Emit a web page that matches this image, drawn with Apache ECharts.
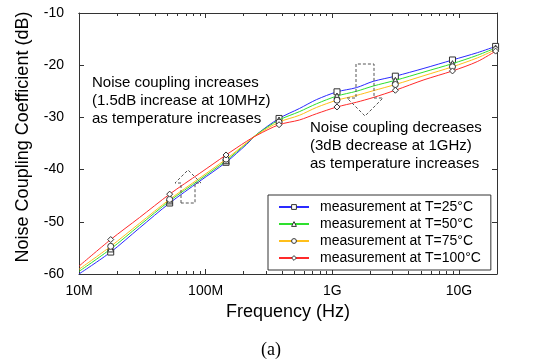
<!DOCTYPE html>
<html>
<head>
<meta charset="utf-8">
<script src="https://cdn.jsdelivr.net/npm/echarts@6/dist/echarts.min.js"></script>
<style>
html,body{margin:0;padding:0;background:#fff;}
#c{width:545px;height:363px;}
</style>
</head>
<body>
<div id="c"></div>
<script>
// ---- data (frequency in Hz, coupling in dB) ----
const freqHz = [1e7, 1.78e7, 3e7, 5.2e7, 9e7, 1.45e8, 2.1e8, 2.55e8, 3.8e8, 5.5e8, 7.5e8, 1.09e9, 1.55e9, 2.1e9, 3.15e9, 5.3e9, 8.9e9, 1.4e10, 1.95e10];
const markerHz = [1.78e7, 5.2e7, 1.45e8, 3.8e8, 1.09e9, 3.15e9, 8.9e9, 1.95e10];
const t25  = [-60.0, -55.8, -51.2, -46.4, -42.2, -38.6, -35.2, -33.2, -30.2, -28.3, -26.6, -25.1, -24.3, -23.1, -22.1, -20.6, -19.0, -17.6, -16.4];
const t50  = [-59.5, -55.2, -50.7, -46.0, -41.9, -38.3, -35.0, -33.2, -30.5, -28.9, -27.4, -25.9, -25.0, -24.0, -22.9, -21.3, -19.7, -18.1, -16.7];
const t75  = [-59.1, -54.7, -50.3, -45.7, -41.6, -38.0, -34.9, -33.3, -30.9, -29.6, -28.1, -26.7, -25.8, -24.9, -23.7, -22.0, -20.3, -18.6, -17.0];
const t100 = [-58.5, -53.4, -49.2, -44.7, -40.7, -37.2, -34.6, -33.4, -31.4, -30.5, -29.3, -28.0, -27.1, -26.2, -24.8, -22.8, -21.1, -19.3, -17.3];
const seriesNames = ['measurement at T=25°C', 'measurement at T=50°C', 'measurement at T=75°C', 'measurement at T=100°C'];
const majorTicks = [1e7, 1e8, 1e9, 1e10];
const tickLabels = ['10M', '100M', '1G', '10G'];
const yMin = -60, yMax = -10, yStep = 10;
const xMin = 1e7, xMax = 2e10;

// ---- build ----
const minorTicks = [];
for (let e = 7; e <= 10; e++) for (let m = 2; m <= 9; m++) { const v = m * Math.pow(10, e); if (v < xMax) minorTicks.push(v); }
const lg = v => Math.log10(v);
const colors = ['#2a2aff', '#2ee02e', '#ffbf1a', '#ff2a2a'];
const symbols = ['rect', 'triangle', 'circle', 'diamond'];
const FONT = 'Arial, "Liberation Sans", sans-serif';
const axisColor = '#333';

function build(vals) {
  return freqHz.map((f, i) => {
    const isMarker = markerHz.indexOf(f) >= 0;
    return isMarker ? { value: [f, vals[i]] } : { value: [f, vals[i]], symbol: 'none' };
  });
}
const allVals = [t25, t50, t75, t100];

// main data axis (log), with decade labels
const mainX = {
  type: 'log', logBase: 10, min: xMin, max: xMax, position: 'bottom',
  axisLine: { show: true, onZero: false, lineStyle: { color: axisColor, width: 1 } },
  axisTick: { show: false },
  axisLabel: {
    show: true, customValues: majorTicks, margin: 10, fontSize: 14, color: '#000', fontFamily: FONT,
    formatter: v => tickLabels[majorTicks.findIndex(t => Math.abs(t - v) / t < 1e-6)] || ''
  },
  splitLine: { show: false }
};
// tick-only axes in log10 space (same extent as main axis)
function tickAx(pos, ticks, len) {
  return {
    type: 'value', min: lg(xMin), max: lg(xMax), position: pos,
    axisLine: { show: pos === 'top', onZero: false, lineStyle: { color: axisColor, width: 1 } },
    axisTick: { show: true, inside: true, length: len, customValues: ticks.map(lg), lineStyle: { color: axisColor, width: 1 } },
    axisLabel: { show: false },
    splitLine: { show: false }
  };
}
function yAx(pos, labels) {
  return {
    type: 'value', min: yMin, max: yMax, interval: yStep, position: pos,
    axisLine: { show: true, onZero: false, lineStyle: { color: axisColor, width: 1 } },
    axisTick: { show: true, inside: true, length: 5, lineStyle: { color: axisColor, width: 1 } },
    axisLabel: labels ? { show: true, margin: 15, fontSize: 14, color: '#000', fontFamily: FONT } : { show: false },
    splitLine: { show: false }
  };
}

const chart = echarts.init(document.getElementById('c'), null, { renderer: 'canvas' });
const dash = { stroke: '#555', lineWidth: 1, lineDash: [3, 2], fill: null };
chart.setOption({
  animation: false,
  backgroundColor: '#fff',
  grid: { left: 79, right: 48, top: 13, bottom: 89, containLabel: false },
  xAxis: [mainX, tickAx('bottom', majorTicks, 5), tickAx('bottom', minorTicks, 3), tickAx('top', majorTicks, 5), tickAx('top', minorTicks, 3)],
  yAxis: [yAx('left', true), yAx('right', false)],
  legend: {
    orient: 'vertical', left: 268, top: 195,
    padding: [5, 10, 5, 10], itemWidth: 30, itemHeight: 6, itemGap: 3,
    backgroundColor: '#fff', borderColor: '#333', borderWidth: 1, borderRadius: 0,
    itemStyle: { color: '#fff', borderColor: '#333', borderWidth: 1 },
    textStyle: { fontSize: 14, color: '#000', fontFamily: FONT, padding: [0, 0, 0, 6] },
    data: seriesNames
  },
  series: allVals.map((vals, k) => ({
    name: seriesNames[k], type: 'line', xAxisIndex: 0, yAxisIndex: 0,
    data: build(vals), smooth: 0.3, showAllSymbol: true,
    symbol: symbols[k], symbolSize: 6,
    lineStyle: { color: colors[k], width: 1 },
    itemStyle: { color: '#fff', borderColor: '#333', borderWidth: 1 },
    emphasis: { disabled: true }, z: 2 + k
  })),
  graphic: [
    { type: 'text', silent: true, style: { x: 23, y: 137, text: 'Noise Coupling Coefficient (dB)', font: '18px ' + FONT, fill: '#000', align: 'center', verticalAlign: 'middle' }, rotation: Math.PI / 2, originX: 23, originY: 137 },
    { type: 'text', silent: true, style: { x: 288, y: 312, text: 'Frequency (Hz)', font: '18px ' + FONT, fill: '#000', align: 'center', verticalAlign: 'middle' } },
    { type: 'text', silent: true, style: { x: 271, y: 350, text: '(a)', font: '18px "Liberation Serif", "Times New Roman", serif', fill: '#000', align: 'center', verticalAlign: 'middle' } },
    { type: 'text', silent: true, style: { x: 92, y: 74, text: 'Noise coupling increases\n(1.5dB increase at 10MHz)\nas temperature increases', font: '15px ' + FONT, fill: '#000', lineHeight: 18, verticalAlign: 'top' } },
    { type: 'text', silent: true, style: { x: 310, y: 119, text: 'Noise coupling decreases\n(3dB decrease at 1GHz)\nas temperature increases', font: '15px ' + FONT, fill: '#000', lineHeight: 18, verticalAlign: 'top' } },
    { type: 'polygon', silent: true, z: 10, shape: { points: [[181, 203], [181, 183], [175, 183], [188, 170], [201, 183], [195, 183], [195, 203]] }, style: dash },
    { type: 'polygon', silent: true, z: 10, shape: { points: [[356, 64], [356, 98], [347, 98], [365, 116], [383, 98], [374, 98], [374, 64]] }, style: dash }
  ]
});
</script>
</body>
</html>
